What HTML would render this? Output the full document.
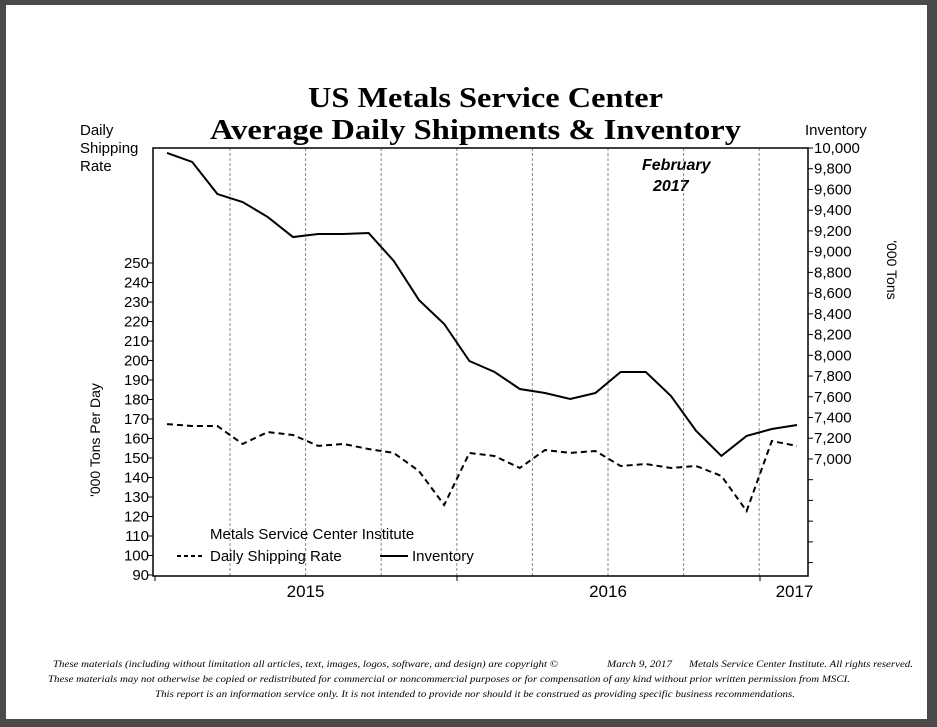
<!DOCTYPE html>
<html><head><meta charset="utf-8"><style>
html,body{margin:0;padding:0;background:#4a4a4a;}
body{width:937px;height:727px;overflow:hidden;position:relative;}
svg{position:absolute;left:0;top:0;}
</style></head><body>
<svg width="937" height="727" viewBox="0 0 937 727" id="chart">
<rect x="6" y="5" width="921" height="714" fill="#fff"/>
<g font-family="Liberation Serif, serif" font-weight="bold" font-size="29">
<text x="308" y="107" textLength="355" lengthAdjust="spacingAndGlyphs">US Metals Service Center</text>
<text x="210" y="139" textLength="531" lengthAdjust="spacingAndGlyphs">Average Daily Shipments &amp; Inventory</text>
</g>
<g font-family="Liberation Sans, sans-serif" font-size="15">
<text x="80" y="135">Daily</text><text x="80" y="153">Shipping</text><text x="80" y="171">Rate</text>
</g>
<text x="805" y="135" font-family="Liberation Sans, sans-serif" font-size="15">Inventory</text>
<text transform="translate(887,270) rotate(90)" font-family="Liberation Sans, sans-serif" font-size="14" text-anchor="middle">'000 Tons</text>
<text transform="translate(100,440) rotate(-90)" font-family="Liberation Sans, sans-serif" font-size="14" text-anchor="middle">'000 Tons Per Day</text>
<g font-family="Liberation Sans, sans-serif" font-style="italic" font-weight="bold" font-size="16">
<text x="642" y="170">February</text><text x="653" y="191">2017</text>
</g>
<g id="grid"></g><g id="axes"></g><g id="series"></g>
<g font-family="Liberation Sans, sans-serif" font-size="15">
<text x="210" y="539">Metals Service Center Institute</text>
<line x1="177" y1="556" x2="204" y2="556" stroke="#000" stroke-width="2" stroke-dasharray="4,3"/>
<text x="210" y="561">Daily Shipping Rate</text>
<line x1="380" y1="556" x2="408" y2="556" stroke="#000" stroke-width="2"/>
<text x="412" y="561">Inventory</text>
</g>
<g font-family="Liberation Serif, serif" font-style="italic" font-size="9.5">
<text x="53" y="667" textLength="505" lengthAdjust="spacingAndGlyphs">These materials (including without limitation all articles, text, images, logos, software, and design) are copyright ©</text>
<text x="607" y="667" textLength="65" lengthAdjust="spacingAndGlyphs">March 9, 2017</text>
<text x="689" y="667" textLength="224" lengthAdjust="spacingAndGlyphs">Metals Service Center Institute.  All rights reserved.</text>
<text x="48" y="682" textLength="802" lengthAdjust="spacingAndGlyphs">These materials may not otherwise be copied or redistributed for commercial or noncommercial purposes or for compensation of any kind without prior written permission from MSCI.</text>
<text x="155" y="697" textLength="640" lengthAdjust="spacingAndGlyphs">This report is an information service only.  It is not intended to provide nor should it be construed as providing specific business recommendations.</text>
</g>
</svg>
<script>
const shipping=[167.4,166.4,166.4,157.2,163.3,161.8,156.2,157.2,154.6,152.6,143.3,125.9,152.6,151,144.9,154.1,152.6,153.6,145.9,146.9,144.9,145.9,140.8,122.8,158.7,156.2];
const inventory=[9952,9865,9556,9479,9334,9141,9170,9170,9180,8910,8533,8302,7945,7839,7675,7636,7579,7636,7839,7839,7607,7270,7029,7222,7289,7328];
const leftTicks=[90,100,110,120,130,140,150,160,170,180,190,200,210,220,230,240,250];
const rightTicks=[7000,7200,7400,7600,7800,8000,8200,8400,8600,8800,9000,9200,9400,9600,9800,10000];
const yearLabels=["2015","2016","2017"];
const yearIdx=[5.5,17.5,24.9];
const NS='http://www.w3.org/2000/svg';
const L=153,R=808,T=148,B=576;
const x=i=>167+i*25.2;
const yL=v=>575-(v-90)*1.95;
const yR=v=>148+(10000-v)*0.10365;
function mk(p,t,a){const e=document.createElementNS(NS,t);for(const k in a)e.setAttribute(k,a[k]);document.getElementById(p).appendChild(e);return e;}
for(let q=0;q<8;q++){const gx=x(2.5+q*3);
const g=mk('grid','line',{x1:gx,y1:T,x2:gx,y2:B,stroke:'#888','stroke-width':1,'stroke-dasharray':'3,2'});

}
const fr=mk('axes','rect',{x:L,y:T,width:R-L,height:B-T,fill:'none',stroke:'#000','stroke-width':1.5});


leftTicks.forEach(v=>{const yy=yL(v);
const t=mk('axes','line',{x1:L-5,y1:yy,x2:L,y2:yy,stroke:'#000'});


const tx=mk('axes','text',{x:L-4,y:yy+5,'text-anchor':'end','font-family':'Liberation Sans, sans-serif','font-size':15});
tx.textContent=v;

});
for(let v=10000;v>=5800;v-=200){const yy=yR(v);if(yy>B)break;
const t=mk('axes','line',{x1:R,y1:yy,x2:R+5,y2:yy,stroke:'#000'});

}
rightTicks.forEach(v=>{const yy=yR(v);
const tx=mk('axes','text',{x:R+6,y:yy+5,'font-family':'Liberation Sans, sans-serif','font-size':15});
tx.textContent=v.toLocaleString('en-US');

});
[155,457,760].forEach(tx0=>{const t=mk('axes','line',{x1:tx0,y1:B,x2:tx0,y2:B+5,stroke:'#000'});

});
yearLabels.forEach((s,i)=>{const tx=mk('axes','text',{x:x(yearIdx[i]),y:597,'text-anchor':'middle','font-family':'Liberation Sans, sans-serif','font-size':17});
tx.textContent=s;

});
const p1=mk('series','polyline',{points:shipping.map((v,i)=>x(i)+','+yL(v)).join(' '),fill:'none',stroke:'#000','stroke-width':2,'stroke-dasharray':'6,4'});


const p2=mk('series','polyline',{points:inventory.map((v,i)=>x(i)+','+yR(v)).join(' '),fill:'none',stroke:'#000','stroke-width':2});


</script>
</body></html>
